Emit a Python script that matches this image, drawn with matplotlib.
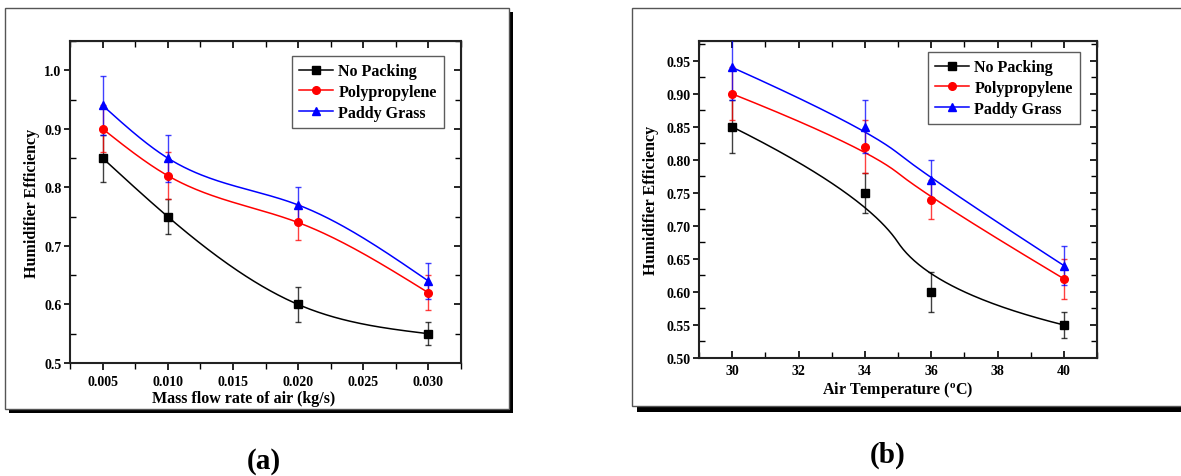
import numpy as np
import matplotlib
matplotlib.use('Agg')
import matplotlib.pyplot as plt
from matplotlib.patches import Rectangle
from matplotlib.ticker import MultipleLocator, FormatStrFormatter

plt.rcParams['font.family'] = ['Liberation Serif', 'DejaVu Serif']
plt.rcParams['font.weight'] = 'bold'
plt.rcParams['mathtext.fontset'] = 'custom'
plt.rcParams['mathtext.bf'] = 'Liberation Serif:bold'

# data
series = ['No Packing', 'Polypropylene', 'Paddy Grass']
colors = ['black', 'red', 'blue']
markers = ['s', 'o', '^']

flow = [0.005, 0.010, 0.020, 0.030]
temp = [30, 34, 36, 40]

no_packing = [0.85, 0.75, 0.60, 0.55]
no_packing_err = [0.04, 0.03, 0.03, 0.02]
polypropylene = [0.90, 0.82, 0.74, 0.62]
polypropylene_err = [0.04, 0.04, 0.03, 0.03]
paddy_grass = [0.94, 0.85, 0.77, 0.64]
paddy_grass_err = [0.05, 0.04, 0.03, 0.03]

values = [no_packing, polypropylene, paddy_grass]
errors = [no_packing_err, polypropylene_err, paddy_grass_err]


def natural_spline(x, y, n=200):
    # cubic spline through the points (natural end conditions)
    x = np.asarray(x, float)
    y = np.asarray(y, float)
    m = len(x)
    h = np.diff(x)
    A = np.zeros((m, m))
    b = np.zeros(m)
    A[0, 0] = A[-1, -1] = 1
    for i in range(1, m - 1):
        A[i, i - 1] = h[i - 1]
        A[i, i] = 2 * (h[i - 1] + h[i])
        A[i, i + 1] = h[i]
        b[i] = 3 * ((y[i + 1] - y[i]) / h[i] - (y[i] - y[i - 1]) / h[i - 1])
    c = np.linalg.solve(A, b)
    xs, ys = [], []
    for i in range(m - 1):
        t = np.linspace(0, h[i], n // (m - 1))
        bi = (y[i + 1] - y[i]) / h[i] - h[i] * (2 * c[i] + c[i + 1]) / 3
        di = (c[i + 1] - c[i]) / (3 * h[i])
        xs.append(x[i] + t)
        ys.append(y[i] + bi * t + c[i] * t ** 2 + di * t ** 3)
    return np.concatenate(xs), np.concatenate(ys)


def bspline2(x, y, n=100):
    # clamped quadratic B-spline, data points used as control points
    P = np.column_stack([x, y]).astype(float)
    ends = [P[0]] + [(P[i] + P[i + 1]) / 2 for i in range(1, len(P) - 2)] + [P[-1]]
    t = np.linspace(0, 1, n)[:, None]
    segs = []
    for i in range(len(ends) - 1):
        a, c, b = ends[i], P[i + 1], ends[i + 1]
        segs.append((1 - t) ** 2 * a + 2 * t * (1 - t) * c + t ** 2 * b)
    B = np.vstack(segs)
    return B[:, 0], B[:, 1]


W, H = 1181, 477
fig = plt.figure(figsize=(W / 100, H / 100), dpi=100)


def px_rect(x0, y0, x1, y1, **kw):
    r = Rectangle((x0 / W, 1 - y1 / H), (x1 - x0) / W, (y1 - y0) / H,
                  transform=fig.transFigure, **kw)
    fig.add_artist(r)


# framed panels with drop shadow
px_rect(9, 13, 513, 414, facecolor='black', edgecolor='none', zorder=-3)
px_rect(5, 9, 509, 410, facecolor='white', edgecolor='#555555', lw=1, zorder=-2)
px_rect(637, 13, 1190, 413, facecolor='black', edgecolor='none', zorder=-3)
px_rect(632, 9, 1185, 407, facecolor='white', edgecolor='#555555', lw=1, zorder=-2)


def make_axes(rect, xs, curve, xlim, ylim, xmaj, xmin, ymaj, ymin, yfmt, xfmt,
              xlabel, bottom_dir, legend_box, ylabelpad):
    ax = fig.add_axes(rect)
    ax.set_facecolor('white')
    for ser, vals, errs, col, mk in zip(series, values, errors, colors, markers):
        cx, cy = curve(xs, vals)
        ax.plot(cx, cy, color=col, lw=1.1, zorder=2)
        ax.errorbar(xs, vals, yerr=errs, fmt='none', ecolor=col, elinewidth=1,
                    capsize=2.5, capthick=1, alpha=0.75, zorder=3)
        ax.plot(xs, vals, linestyle='none', marker=mk, color=col, ms=5.5, zorder=4)
        ax.plot([], [], color=col, marker=mk, ms=5.5, lw=1.1, label=ser)
    ax.set_xlim(*xlim)
    ax.set_ylim(*ylim)
    ax.xaxis.set_major_locator(MultipleLocator(xmaj))
    ax.xaxis.set_minor_locator(MultipleLocator(xmin))
    ax.yaxis.set_major_locator(MultipleLocator(ymaj))
    ax.yaxis.set_minor_locator(MultipleLocator(ymin))
    ax.yaxis.set_major_formatter(FormatStrFormatter(yfmt))
    ax.xaxis.set_major_formatter(FormatStrFormatter(xfmt))
    for s in ax.spines.values():
        s.set_linewidth(1.5)
        s.set_color('#222222')
    ax.tick_params(axis='x', which='major', direction=bottom_dir, length=5, width=1.2,
                   labelsize=10, pad=4)
    ax.tick_params(axis='x', which='minor', direction=bottom_dir, length=4, width=1)
    ax.tick_params(axis='y', which='major', direction='out', length=4, width=1.2,
                   labelsize=10, pad=2)
    ax.tick_params(axis='y', which='minor', direction='in', length=4, width=1)
    for lab in ax.get_xticklabels() + ax.get_yticklabels():
        lab.set_fontweight('bold')
    top = ax.secondary_xaxis('top')
    top.xaxis.set_major_locator(MultipleLocator(xmaj))
    top.xaxis.set_minor_locator(MultipleLocator(xmin))
    top.tick_params(which='both', direction='in', labeltop=False)
    top.tick_params(which='major', length=5, width=1.2)
    top.tick_params(which='minor', length=4, width=1)
    right = ax.secondary_yaxis('right')
    right.yaxis.set_major_locator(MultipleLocator(ymaj))
    right.yaxis.set_minor_locator(MultipleLocator(ymin))
    right.tick_params(which='both', direction='in', labelright=False)
    right.tick_params(which='major', length=5, width=1.2)
    right.tick_params(which='minor', length=4, width=1)
    ax.set_xlabel(xlabel, fontsize=11.5, fontweight='bold', labelpad=2)
    ax.set_ylabel('Humidifier Efficiency', fontsize=11.5, fontweight='bold',
                  labelpad=ylabelpad)
    leg = ax.legend(loc='upper left', bbox_to_anchor=legend_box, fontsize=11.5,
                    frameon=True, fancybox=False, edgecolor='#333333',
                    handlelength=2.1, handletextpad=0.35, borderpad=0.45,
                    labelspacing=0.3, borderaxespad=0)
    leg.get_frame().set_linewidth(1)
    for t in leg.get_texts():
        t.set_fontweight('bold')
    return ax


ax_a = make_axes([70 / W, 1 - 364 / H, 391 / W, 322 / H], flow, natural_spline,
                 (0.0025, 0.0325), (0.5, 1.05), 0.005, 0.0025, 0.1, 0.05, '%.1f', '%.3f',
                 'Mass flow rate of air (kg/s)', 'out', (222 / 391, 1 - 15 / 322), 3)
# the label in (a) sits a little left of centre
ax_a.xaxis.set_label_coords(0.445, -0.085)

make_axes([699 / W, 1 - 359 / H, 398 / W, 317 / H], temp, bspline2,
          (29, 41), (0.5, 0.98), 2, 1, 0.05, 0.025, '%.2f', '%d',
          'Air Temperature ($\\mathbf{^o}$C)', 'in', (229 / 398, 1 - 11 / 317), 5)

fig.text(264 / W, 1 - 462 / H, '(a)', fontsize=21, fontweight='bold', ha='center', va='center')
fig.text(888 / W, 1 - 455 / H, '(b)', fontsize=21, fontweight='bold', ha='center', va='center')

fig.savefig('out.png', dpi=100)
